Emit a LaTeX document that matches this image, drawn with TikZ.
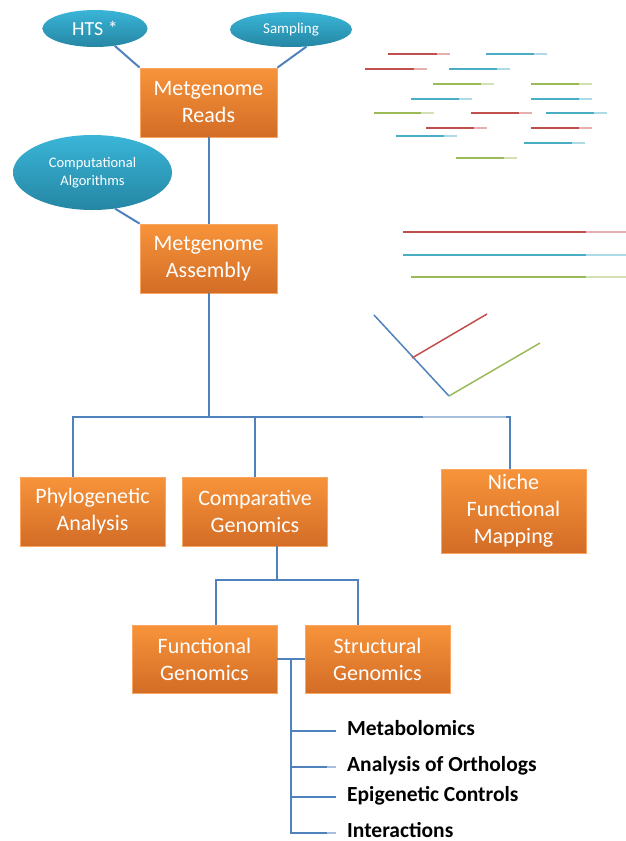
\documentclass[tikz,border=0pt]{standalone}
\usepackage{fontspec}
\setmainfont{Carlito}
\usepackage{tikz}
\usetikzlibrary{shapes.geometric,positioning}
\usepackage{xcolor}

\definecolor{boxtop}{HTML}{F7943A}
\definecolor{boxbot}{HTML}{D36C26}
\definecolor{boxedge}{HTML}{F9A662}
\definecolor{elltop}{HTML}{3AB5D8}
\definecolor{ellbot}{HTML}{2586A3}
\definecolor{linkblue}{HTML}{4F81BD}
\definecolor{linklight}{HTML}{A7C0DE}
\definecolor{readred}{HTML}{C0504D}
\definecolor{readblue}{HTML}{4BACC6}
\definecolor{readgreen}{HTML}{9BBB59}

\tikzset{
  stagebox/.style={rectangle, top color=boxtop, bottom color=boxbot, draw=boxedge, line width=0.8pt,
    text=white, align=center, minimum width=145pt, minimum height=69pt, inner sep=0pt,
    font=\fontsize{22}{27}\selectfont},
  toolell/.style={ellipse, top color=elltop, bottom color=ellbot, text=white, align=center, inner sep=0pt},
  link/.style={linkblue, line width=2pt},
  linkfade/.style={linklight, line width=2pt},
  listitem/.style={anchor=west, inner xsep=11pt, inner ysep=0pt, text height=9pt, text depth=1pt,
    font=\fontsize{21.5}{25}\selectfont\bfseries},
}

\begin{document}
\begin{tikzpicture}[x=1pt, y=-1pt]
\useasboundingbox (0,0) rectangle (626,841);

% Reads
\foreach \c/\xa/\xb/\yy in {readred/388/450/54, readblue/486/547/54, readred/365/427/69, readblue/449/510/69,
  readgreen/433/494/84, readgreen/531/592/84, readblue/411/472/99, readblue/531/592/99,
  readgreen/374/434/113, readred/471/532/113, readblue/546/607/113, readred/426/487/128,
  readred/531/592/128, readblue/396/457/136, readblue/524/585/143, readgreen/456/517/158}
{
  \draw[\c, line width=2pt] (\xa,\yy) -- (\xb-13,\yy);
  \draw[\c!45, line width=2pt] (\xb-13,\yy) -- (\xb,\yy);
}

% Contigs
\foreach \c/\xa/\yy in {readred/403/232, readblue/403/255, readgreen/411/277}
{
  \draw[\c, line width=2.5pt] (\xa,\yy) -- (586,\yy);
  \draw[\c!45, line width=2.5pt] (586,\yy) -- (626,\yy);
}

% Tree
\draw[linkblue, line width=1.5pt] (374,315) -- (449,396);
\draw[readred, line width=1.5pt] (412,358) -- (487,314);
\draw[readgreen, line width=1.5pt] (449,396) -- (540,343);

% Inputs
\node[toolell, minimum width=105pt, minimum height=37pt, font=\fontsize{20}{24}\selectfont] (hts) at (95,28.5) {HTS *};
\node[toolell, minimum width=122pt, minimum height=35pt, font=\fontsize{15}{18}\selectfont] (samp) at (291,29.5) {Sampling};
\node[toolell, minimum width=159pt, minimum height=75pt, font=\fontsize{14.5}{18}\selectfont] (algo) at (92.5,172.5) {Computational\\Algorithms};

% Stages
\node[stagebox, minimum width=137pt] (reads) at (208.5,102.5) {Metgenome\\Reads};
\node[stagebox, minimum width=137pt] (asm) at (208.5,258.5) {Metgenome\\Assembly};
\node[stagebox] (phy) at (92.5,511.5) {Phylogenetic\\Analysis};
\node[stagebox] (comp) at (255,511.5) {Comparative\\Genomics};
\node[stagebox, minimum height=84pt] (niche) at (513.5,511) {Niche\\Functional\\Mapping};
\node[stagebox, minimum height=68pt] (func) at (204.5,659) {Functional\\Genomics};
\node[stagebox, minimum height=68pt] (struct) at (377.5,659) {Structural\\Genomics};

% Applications
\node[listitem] (metab) at (336,731) {Metabolomics};
\node[listitem] (ortho) at (336,767) {Analysis of Orthologs};
\node[listitem] (epi) at (336,797) {Epigenetic Controls};
\node[listitem] (inter) at (336,833) {Interactions};

% Links
\draw[link] (hts) -- (reads.north west);
\draw[link] (samp.-48) -- (reads.north east);
\draw[link] (algo.-58) -- (asm.north west);
\draw[link] (reads.south) -- (asm.north);

\coordinate (bus) at (208.5,417);
\coordinate (busL) at (73,417);
\coordinate (busR) at (510,417);
\draw[link] (asm.south) -- (bus);
\draw[link] (busL |- phy.north) -- (busL) -- (busR) -- (busR |- niche.north);
\draw[linkfade] (423,417) -- (506,417);
\draw[link] (comp.north) -- (comp.north |- bus);

\coordinate (sub) at (277,580);
\coordinate (subL) at (216,580);
\coordinate (subR) at (358,580);
\draw[link] (sub |- comp.south) -- (sub);
\draw[link] (subL |- func.north) -- (subL) -- (subR) -- (subR |- struct.north);
\draw[link] (func.east) -- (struct.west);

\coordinate (tie) at (291,659);
\draw[link] (tie) |- (inter.west);
\foreach \n in {metab,ortho,epi}
  \draw[link] (tie |- \n.west) -- (\n.west);
\draw[linkfade] (327,767) -- (ortho.west);
\draw[linkfade] (327,833) -- (inter.west);

\end{tikzpicture}
\end{document}
